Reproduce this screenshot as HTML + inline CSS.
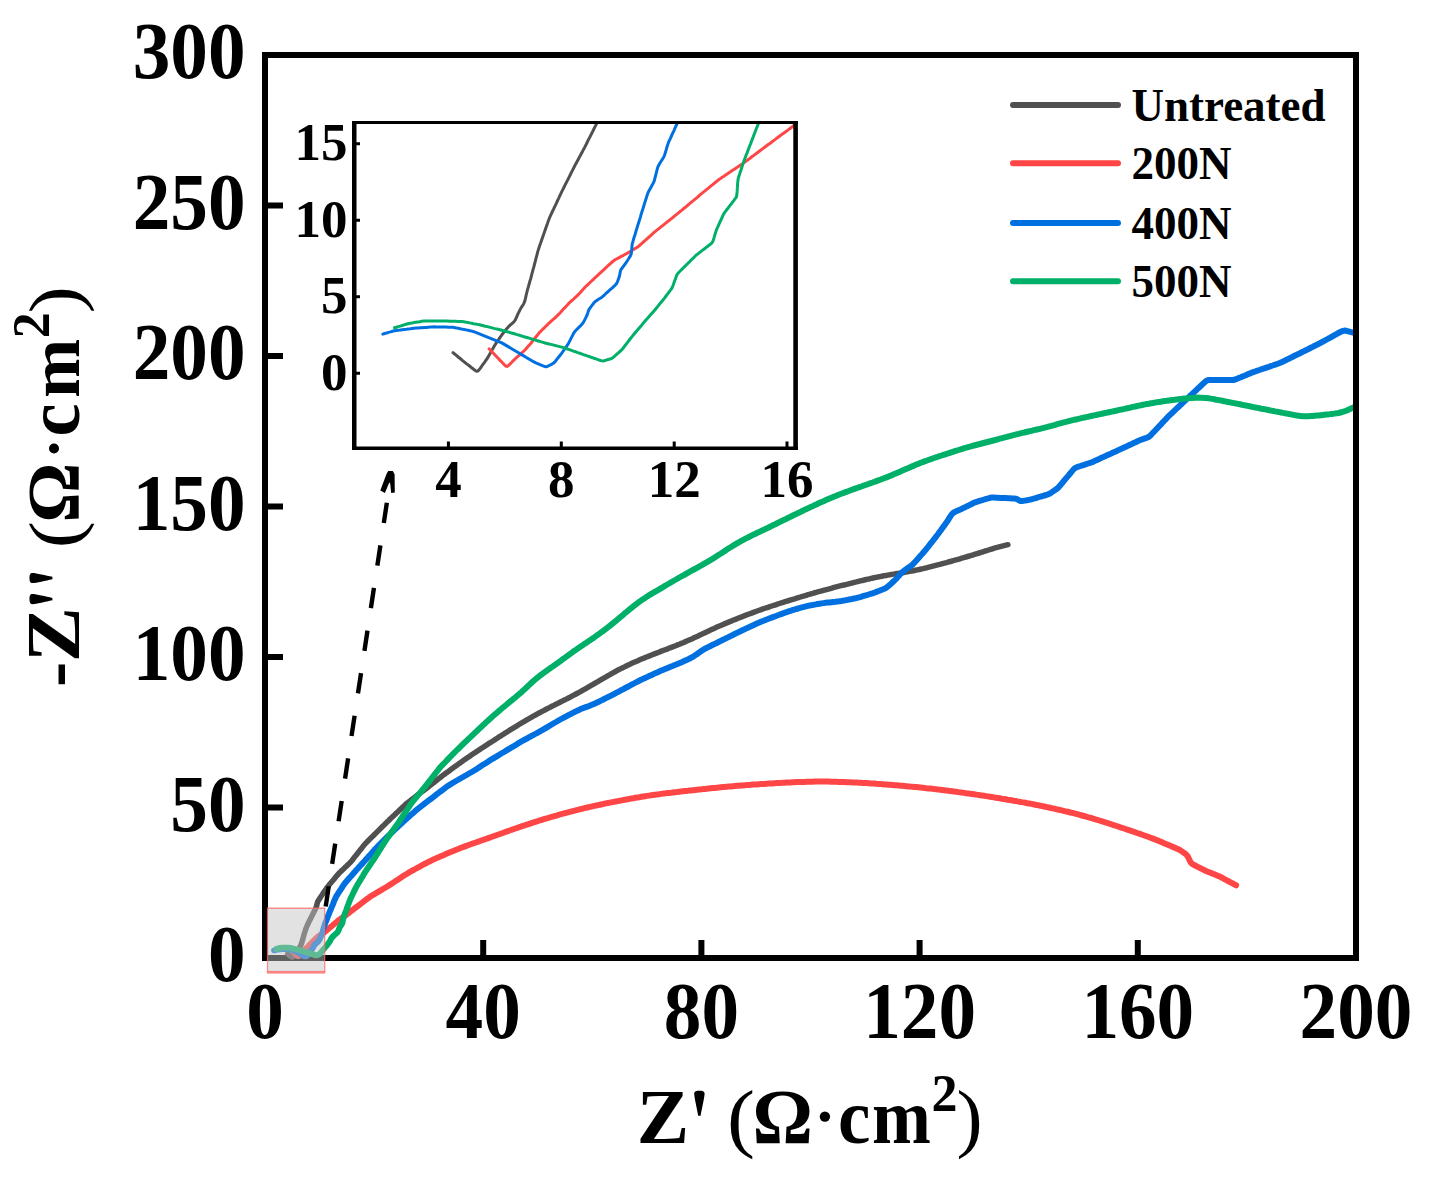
<!DOCTYPE html><html><head><meta charset="utf-8"><style>html,body{margin:0;padding:0;background:#fff;overflow:hidden;width:1435px;height:1181px;}svg{display:block;font-family:"Liberation Serif",serif;font-weight:bold;}</style></head><body>
<svg width="1435" height="1181" viewBox="0 0 1435 1181">
<defs><clipPath id="cm"><rect x="268" y="58" width="1085" height="904"/></clipPath><clipPath id="ci"><rect x="356" y="123" width="438" height="325"/></clipPath></defs>
<rect x="265" y="55" width="1091" height="903" fill="none" stroke="#000" stroke-width="6"/>
<g clip-path="url(#cm)" fill="none" stroke-width="6" stroke-linejoin="round" stroke-linecap="round">
<path d="M287.7,953.9 L289.3,955.2 L290.8,956.5 L292.3,957.1 L293.5,956.2 L294.6,954.5 L295.6,952.8 L296.7,951.1 L297.9,949.5 L299.2,948.0 L300.2,946.4 L301.1,944.6 L301.8,942.7 L302.3,940.8 L302.9,938.9 L303.4,936.9 L303.9,935.0 L304.4,933.1 L305.1,931.2 L305.7,929.3 L306.4,927.4 L307.2,925.6 L308.0,923.8 L308.9,921.9 L309.8,920.1 L310.7,918.4 L311.6,916.6 L312.5,914.8 L313.4,913.0 L314.3,911.2 L315.2,909.4 L316.1,907.6 L316.7,905.7 L317.1,903.8 L317.6,901.9 L318.6,900.2 L319.7,898.5 L320.8,896.8 L321.9,895.2 L323.0,893.5 L324.1,891.8 L325.2,890.2 L326.4,888.5 L327.6,886.9 L328.8,885.4 L330.1,883.8 L331.4,882.3 L332.7,880.7 L334.0,879.2 L335.2,877.7 L336.5,876.1 L337.8,874.6 L339.1,873.1 L340.6,871.7 L342.0,870.3 L343.5,869.0 L344.9,867.6 L346.4,866.2 L347.8,864.8 L349.3,863.4 L350.7,862.0 L352.0,860.5 L353.2,858.9 L354.4,857.3 L355.7,855.8 L356.9,854.2 L358.2,852.6 L359.4,851.0 L360.6,849.5 L361.9,847.9 L363.1,846.3 L364.4,844.8 L365.7,843.3 L367.1,841.8 L368.5,840.4 L369.9,839.0 L371.3,837.6 L372.8,836.2 L374.2,834.8 L375.6,833.4 L377.0,831.9 L378.5,830.5 L379.9,829.1 L381.3,827.7 L382.7,826.3 L384.2,824.9 L385.6,823.5 L387.0,822.1 L388.5,820.7 L389.9,819.3 L391.3,817.9 L392.8,816.5 L394.2,815.2 L395.7,813.8 L397.1,812.4 L398.6,811.0 L400.0,809.6 L401.5,808.3 L402.9,806.9 L404.4,805.5 L405.9,804.2 L407.4,802.9 L409.0,801.7 L410.6,800.5 L412.2,799.2 L413.8,798.0 L415.3,796.8 L416.9,795.5 L418.5,794.3 L420.1,793.1 L421.7,791.9 L423.3,790.7 L424.9,789.5 L426.5,788.3 L428.1,787.0 L429.7,785.8 L431.3,784.6 L432.8,783.4 L434.4,782.2 L436.0,780.9 L437.5,779.7 L439.1,778.4 L440.7,777.2 L442.2,775.9 L443.8,774.7 L445.4,773.5 L447.1,772.4 L448.7,771.2 L450.3,770.0 L451.9,768.8 L453.5,767.6 L455.1,766.5 L456.8,765.3 L458.4,764.1 L460.0,763.0 L461.7,761.8 L463.3,760.6 L464.9,759.5 L466.6,758.3 L468.2,757.2 L469.9,756.1 L471.5,754.9 L473.2,753.8 L474.8,752.7 L476.5,751.6 L478.2,750.5 L479.9,749.4 L481.5,748.3 L483.2,747.2 L484.9,746.1 L486.6,745.0 L488.2,743.9 L489.9,742.8 L491.6,741.8 L493.3,740.7 L495.0,739.6 L496.7,738.5 L498.3,737.4 L500.0,736.3 L501.7,735.3 L503.4,734.2 L505.1,733.1 L506.8,732.1 L508.5,731.0 L510.2,729.9 L511.9,728.9 L513.6,727.9 L515.3,726.8 L517.0,725.8 L518.7,724.7 L520.5,723.7 L522.2,722.7 L523.9,721.7 L525.6,720.6 L527.3,719.6 L529.1,718.6 L530.8,717.6 L532.5,716.6 L534.3,715.6 L536.0,714.7 L537.8,713.7 L539.5,712.8 L541.3,711.8 L543.1,710.9 L544.8,710.0 L546.6,709.0 L548.4,708.1 L550.2,707.2 L552.0,706.3 L553.8,705.4 L555.5,704.5 L557.3,703.6 L559.1,702.7 L560.9,701.8 L562.7,700.9 L564.5,700.0 L566.3,699.1 L568.0,698.2 L569.8,697.3 L571.6,696.3 L573.4,695.4 L575.1,694.5 L576.9,693.5 L578.6,692.6 L580.4,691.6 L582.1,690.6 L583.9,689.6 L585.6,688.7 L587.4,687.7 L589.1,686.7 L590.8,685.7 L592.6,684.7 L594.3,683.6 L596.0,682.6 L597.8,681.6 L599.5,680.6 L601.2,679.6 L602.9,678.6 L604.7,677.6 L606.4,676.6 L608.1,675.6 L609.9,674.6 L611.6,673.6 L613.4,672.6 L615.1,671.7 L616.9,670.7 L618.6,669.8 L620.4,668.9 L622.2,668.0 L624.0,667.1 L625.8,666.2 L627.6,665.3 L629.4,664.5 L631.2,663.6 L633.0,662.8 L634.8,662.0 L636.7,661.2 L638.5,660.4 L640.3,659.6 L642.2,658.8 L644.0,658.1 L645.9,657.3 L647.7,656.6 L649.6,655.8 L651.5,655.1 L653.3,654.3 L655.2,653.6 L657.1,652.9 L658.9,652.2 L660.8,651.4 L662.7,650.7 L664.5,650.0 L666.4,649.3 L668.3,648.6 L670.1,647.8 L672.0,647.1 L673.9,646.4 L675.7,645.7 L677.6,644.9 L679.4,644.2 L681.3,643.4 L683.1,642.7 L685.0,641.9 L686.8,641.1 L688.6,640.3 L690.5,639.5 L692.3,638.7 L694.1,637.8 L695.9,637.0 L697.7,636.2 L699.5,635.3 L701.3,634.4 L703.1,633.6 L704.9,632.7 L706.8,631.9 L708.6,631.0 L710.4,630.1 L712.2,629.3 L714.0,628.5 L715.8,627.6 L717.6,626.8 L719.5,626.0 L721.3,625.2 L723.1,624.4 L725.0,623.6 L726.8,622.9 L728.7,622.1 L730.5,621.3 L732.4,620.6 L734.2,619.8 L736.1,619.1 L738.0,618.3 L739.8,617.6 L741.7,616.9 L743.5,616.1 L745.4,615.4 L747.3,614.7 L749.1,614.0 L751.0,613.3 L752.9,612.6 L754.8,611.9 L756.6,611.2 L758.5,610.5 L760.4,609.9 L762.3,609.2 L764.2,608.5 L766.1,607.9 L768.0,607.3 L769.9,606.6 L771.8,606.0 L773.7,605.4 L775.6,604.8 L777.5,604.1 L779.4,603.5 L781.3,602.9 L783.2,602.3 L785.1,601.7 L787.0,601.1 L789.0,600.5 L790.9,599.9 L792.8,599.3 L794.7,598.8 L796.6,598.2 L798.5,597.6 L800.4,597.0 L802.4,596.4 L804.3,595.9 L806.2,595.3 L808.1,594.7 L810.0,594.2 L812.0,593.6 L813.9,593.0 L815.8,592.5 L817.7,591.9 L819.7,591.4 L821.6,590.9 L823.5,590.3 L825.4,589.8 L827.4,589.3 L829.3,588.8 L831.2,588.3 L833.2,587.7 L835.1,587.2 L837.1,586.7 L839.0,586.2 L840.9,585.7 L842.9,585.2 L844.8,584.8 L846.8,584.3 L848.7,583.8 L850.6,583.3 L852.6,582.8 L854.5,582.3 L856.5,581.9 L858.4,581.4 L860.4,580.9 L862.3,580.5 L864.3,580.0 L866.2,579.5 L868.2,579.1 L870.1,578.7 L872.1,578.2 L874.0,577.8 L876.0,577.4 L877.9,577.0 L879.9,576.6 L881.9,576.2 L883.8,575.8 L885.8,575.5 L887.8,575.1 L889.7,574.8 L891.7,574.4 L893.7,574.1 L895.6,573.8 L897.6,573.4 L899.6,573.1 L901.6,572.8 L903.5,572.5 L905.5,572.1 L907.5,571.8 L909.4,571.4 L911.4,571.1 L913.4,570.7 L915.3,570.3 L917.3,569.9 L919.2,569.5 L921.2,569.0 L923.1,568.6 L925.1,568.1 L927.0,567.7 L929.0,567.2 L930.9,566.7 L932.9,566.2 L934.8,565.7 L936.7,565.2 L938.7,564.7 L940.6,564.2 L942.5,563.6 L944.5,563.1 L946.4,562.6 L948.3,562.0 L950.3,561.5 L952.2,561.0 L954.1,560.4 L956.0,559.9 L958.0,559.3 L959.9,558.8 L961.8,558.2 L963.7,557.7 L965.6,557.1 L967.6,556.5 L969.5,556.0 L971.4,555.4 L973.3,554.8 L975.2,554.2 L977.1,553.6 L979.1,553.0 L981.0,552.4 L982.9,551.8 L984.8,551.2 L986.7,550.6 L988.6,550.0 L990.5,549.4 L992.4,548.8 L994.3,548.2 L996.3,547.7 L998.2,547.2 L1000.1,546.7 L1002.1,546.2 L1004.0,545.7 L1006.0,545.2 L1007.9,544.7" stroke="#505050" stroke-width="5.5"/>
<path d="M294.7,953.2 L296.1,954.6 L297.4,955.9 L298.8,955.9 L300.2,954.7 L301.7,953.3 L303.0,951.8 L304.3,950.2 L305.6,948.8 L307.1,947.4 L308.5,946.0 L309.9,944.5 L311.3,943.1 L312.7,941.7 L314.1,940.3 L315.5,938.9 L317.0,937.5 L318.5,936.2 L320.1,935.1 L321.8,934.1 L323.5,933.0 L325.0,931.7 L326.5,930.4 L328.1,929.1 L329.6,927.8 L331.2,926.5 L332.7,925.3 L334.2,924.0 L335.8,922.7 L337.3,921.4 L338.8,920.1 L340.5,919.0 L342.1,917.8 L343.8,916.7 L345.4,915.5 L347.0,914.3 L348.6,913.1 L350.1,911.9 L351.7,910.7 L353.3,909.5 L354.9,908.2 L356.5,907.0 L358.1,905.8 L359.7,904.6 L361.3,903.4 L362.9,902.2 L364.5,900.9 L366.1,899.7 L367.7,898.5 L369.3,897.3 L370.9,896.2 L372.7,895.2 L374.4,894.2 L376.1,893.1 L377.8,892.1 L379.5,891.1 L381.2,890.1 L383.0,889.0 L384.7,888.0 L386.4,887.0 L388.1,885.9 L389.8,884.9 L391.5,883.8 L393.2,882.7 L394.8,881.6 L396.5,880.5 L398.2,879.4 L399.9,878.3 L401.5,877.2 L403.2,876.1 L404.9,875.0 L406.6,874.0 L408.3,872.9 L410.0,871.9 L411.8,870.9 L413.5,870.0 L415.3,869.0 L417.0,868.0 L418.8,867.1 L420.5,866.1 L422.3,865.1 L424.0,864.2 L425.8,863.3 L427.6,862.3 L429.4,861.5 L431.2,860.6 L433.0,859.8 L434.8,858.9 L436.7,858.1 L438.5,857.3 L440.3,856.5 L442.1,855.7 L444.0,854.9 L445.8,854.1 L447.7,853.3 L449.5,852.5 L451.3,851.7 L453.2,851.0 L455.1,850.2 L456.9,849.5 L458.8,848.8 L460.6,848.0 L462.5,847.3 L464.4,846.6 L466.2,845.9 L468.1,845.2 L470.0,844.5 L471.9,843.8 L473.8,843.2 L475.7,842.5 L477.6,841.9 L479.4,841.2 L481.3,840.5 L483.2,839.9 L485.1,839.2 L487.0,838.6 L488.9,837.9 L490.8,837.2 L492.7,836.5 L494.5,835.9 L496.4,835.2 L498.3,834.5 L500.2,833.9 L502.1,833.2 L504.0,832.5 L505.9,831.8 L507.7,831.2 L509.6,830.5 L511.5,829.8 L513.4,829.2 L515.3,828.5 L517.2,827.9 L519.1,827.2 L521.0,826.6 L522.9,825.9 L524.8,825.3 L526.7,824.7 L528.6,824.1 L530.5,823.4 L532.4,822.8 L534.3,822.2 L536.2,821.6 L538.1,821.0 L540.0,820.4 L541.9,819.8 L543.8,819.2 L545.8,818.6 L547.7,818.1 L549.6,817.5 L551.5,816.9 L553.4,816.4 L555.4,815.8 L557.3,815.3 L559.2,814.7 L561.1,814.2 L563.1,813.7 L565.0,813.1 L566.9,812.6 L568.9,812.1 L570.8,811.6 L572.7,811.1 L574.7,810.6 L576.6,810.1 L578.6,809.6 L580.5,809.1 L582.4,808.7 L584.4,808.2 L586.3,807.7 L588.3,807.3 L590.2,806.8 L592.2,806.4 L594.1,805.9 L596.1,805.5 L598.0,805.1 L600.0,804.7 L602.0,804.3 L603.9,803.8 L605.9,803.4 L607.8,803.0 L609.8,802.6 L611.8,802.3 L613.7,801.9 L615.7,801.5 L617.7,801.1 L619.6,800.7 L621.6,800.4 L623.6,800.0 L625.5,799.6 L627.5,799.3 L629.5,798.9 L631.4,798.5 L633.4,798.2 L635.4,797.8 L637.3,797.5 L639.3,797.2 L641.3,796.8 L643.3,796.5 L645.2,796.2 L647.2,795.9 L649.2,795.6 L651.2,795.3 L653.1,795.0 L655.1,794.7 L657.1,794.4 L659.1,794.2 L661.1,793.9 L663.1,793.6 L665.0,793.4 L667.0,793.1 L669.0,792.9 L671.0,792.7 L673.0,792.4 L675.0,792.2 L677.0,792.0 L679.0,791.7 L680.9,791.5 L682.9,791.3 L684.9,791.1 L686.9,790.9 L688.9,790.6 L690.9,790.4 L692.9,790.2 L694.9,790.0 L696.9,789.8 L698.9,789.6 L700.8,789.4 L702.8,789.1 L704.8,788.9 L706.8,788.7 L708.8,788.5 L710.8,788.3 L712.8,788.1 L714.8,787.9 L716.8,787.7 L718.8,787.5 L720.8,787.3 L722.7,787.1 L724.7,786.9 L726.7,786.7 L728.7,786.5 L730.7,786.4 L732.7,786.2 L734.7,786.0 L736.7,785.8 L738.7,785.7 L740.7,785.5 L742.7,785.4 L744.7,785.2 L746.7,785.1 L748.7,784.9 L750.7,784.8 L752.7,784.6 L754.7,784.5 L756.7,784.4 L758.7,784.2 L760.7,784.1 L762.7,784.0 L764.7,783.9 L766.6,783.7 L768.6,783.6 L770.6,783.5 L772.6,783.4 L774.6,783.2 L776.6,783.1 L778.6,783.0 L780.6,782.9 L782.6,782.8 L784.6,782.7 L786.6,782.6 L788.6,782.5 L790.6,782.4 L792.6,782.3 L794.6,782.2 L796.6,782.1 L798.6,782.1 L800.6,782.0 L802.6,781.9 L804.6,781.9 L806.6,781.8 L808.6,781.8 L810.6,781.7 L812.6,781.7 L814.6,781.6 L816.6,781.6 L818.6,781.6 L820.6,781.6 L822.6,781.6 L824.6,781.6 L826.6,781.6 L828.6,781.6 L830.6,781.7 L832.6,781.7 L834.6,781.8 L836.6,781.8 L838.6,781.9 L840.6,781.9 L842.6,782.0 L844.6,782.1 L846.6,782.2 L848.6,782.2 L850.6,782.3 L852.6,782.4 L854.6,782.5 L856.6,782.6 L858.6,782.7 L860.6,782.8 L862.6,782.9 L864.6,783.0 L866.6,783.1 L868.6,783.2 L870.6,783.4 L872.6,783.5 L874.6,783.6 L876.6,783.8 L878.6,783.9 L880.6,784.1 L882.6,784.2 L884.6,784.4 L886.6,784.5 L888.6,784.7 L890.6,784.8 L892.6,785.0 L894.6,785.2 L896.6,785.3 L898.6,785.5 L900.6,785.7 L902.5,785.8 L904.5,786.0 L906.5,786.2 L908.5,786.4 L910.5,786.6 L912.5,786.7 L914.5,786.9 L916.5,787.1 L918.5,787.3 L920.5,787.5 L922.5,787.7 L924.5,787.9 L926.4,788.2 L928.4,788.4 L930.4,788.6 L932.4,788.8 L934.4,789.1 L936.4,789.3 L938.4,789.6 L940.4,789.8 L942.3,790.0 L944.3,790.3 L946.3,790.6 L948.3,790.8 L950.3,791.1 L952.3,791.3 L954.3,791.6 L956.2,791.8 L958.2,792.1 L960.2,792.4 L962.2,792.6 L964.2,792.9 L966.2,793.2 L968.1,793.4 L970.1,793.7 L972.1,794.0 L974.1,794.3 L976.1,794.6 L978.0,794.9 L980.0,795.2 L982.0,795.5 L984.0,795.8 L986.0,796.1 L987.9,796.4 L989.9,796.7 L991.9,797.0 L993.9,797.4 L995.8,797.7 L997.8,798.0 L999.8,798.3 L1001.8,798.7 L1003.7,799.0 L1005.7,799.3 L1007.7,799.7 L1009.7,800.0 L1011.6,800.3 L1013.6,800.7 L1015.6,801.0 L1017.5,801.4 L1019.5,801.7 L1021.5,802.1 L1023.5,802.4 L1025.4,802.8 L1027.4,803.2 L1029.4,803.5 L1031.3,803.9 L1033.3,804.3 L1035.3,804.7 L1037.2,805.1 L1039.2,805.5 L1041.1,805.9 L1043.1,806.3 L1045.1,806.7 L1047.0,807.1 L1049.0,807.5 L1050.9,808.0 L1052.9,808.4 L1054.8,808.8 L1056.8,809.3 L1058.7,809.7 L1060.7,810.1 L1062.6,810.6 L1064.6,811.1 L1066.5,811.5 L1068.5,812.0 L1070.4,812.5 L1072.4,812.9 L1074.3,813.4 L1076.2,813.9 L1078.2,814.4 L1080.1,815.0 L1082.0,815.5 L1084.0,816.0 L1085.9,816.5 L1087.8,817.1 L1089.7,817.6 L1091.7,818.2 L1093.6,818.8 L1095.5,819.4 L1097.4,819.9 L1099.3,820.5 L1101.2,821.1 L1103.1,821.7 L1105.1,822.3 L1107.0,822.9 L1108.9,823.5 L1110.8,824.1 L1112.7,824.8 L1114.6,825.4 L1116.5,826.0 L1118.4,826.6 L1120.3,827.3 L1122.2,827.9 L1124.1,828.5 L1126.0,829.2 L1127.9,829.8 L1129.8,830.4 L1131.7,831.1 L1133.6,831.7 L1135.5,832.4 L1137.3,833.0 L1139.2,833.7 L1141.1,834.3 L1143.0,835.0 L1144.9,835.7 L1146.8,836.3 L1148.7,837.0 L1150.5,837.7 L1152.4,838.4 L1154.3,839.1 L1156.2,839.9 L1158.0,840.6 L1159.9,841.4 L1161.7,842.1 L1163.5,842.9 L1165.4,843.7 L1167.2,844.5 L1169.1,845.3 L1170.9,846.1 L1172.8,846.9 L1174.6,847.6 L1176.4,848.4 L1178.3,849.2 L1180.0,850.2 L1181.7,851.3 L1183.4,852.4 L1185.0,853.5 L1186.5,854.8 L1187.7,856.3 L1188.6,858.1 L1189.4,859.9 L1190.3,861.7 L1191.4,863.2 L1192.9,864.4 L1194.7,865.3 L1196.5,866.2 L1198.3,867.1 L1200.1,868.0 L1201.8,868.9 L1203.6,869.8 L1205.4,870.7 L1207.3,871.5 L1209.1,872.2 L1211.0,872.9 L1212.8,873.7 L1214.7,874.4 L1216.6,875.2 L1218.4,876.0 L1220.2,876.8 L1222.0,877.7 L1223.7,878.7 L1225.5,879.6 L1227.3,880.6 L1229.0,881.5 L1230.8,882.5 L1232.6,883.4 L1234.3,884.4 L1236.1,885.3" stroke="#FF4646"/>
<path d="M274.1,950.3 L276.1,949.8 L278.0,949.4 L280.0,949.2 L282.0,949.0 L284.0,948.9 L286.0,948.9 L288.0,949.1 L290.0,949.4 L291.9,949.9 L293.8,950.6 L295.6,951.4 L297.4,952.2 L299.2,953.2 L300.9,954.3 L302.6,955.3 L304.4,956.2 L306.2,956.3 L307.7,955.3 L308.9,953.7 L310.0,952.1 L311.0,950.3 L312.2,948.8 L313.3,947.1 L314.2,945.3 L315.4,943.8 L317.0,942.6 L318.4,941.2 L319.5,939.6 L320.2,937.8 L321.2,936.1 L322.1,934.3 L322.5,932.4 L323.0,930.5 L323.5,928.6 L324.1,926.6 L324.7,924.7 L325.3,922.8 L326.2,921.0 L326.9,919.2 L327.5,917.3 L328.3,915.5 L329.0,913.6 L329.7,911.8 L330.6,909.9 L331.3,908.1 L332.1,906.2 L332.9,904.4 L333.6,902.5 L334.3,900.7 L335.1,898.8 L335.9,897.0 L336.9,895.3 L338.0,893.6 L339.1,891.9 L340.2,890.3 L341.3,888.6 L342.4,886.9 L343.5,885.2 L344.6,883.6 L345.9,882.0 L347.2,880.5 L348.5,879.0 L349.8,877.5 L351.2,876.0 L352.5,874.5 L353.8,873.0 L355.1,871.5 L356.4,870.0 L357.8,868.5 L359.1,867.0 L360.5,865.5 L361.8,864.1 L363.2,862.6 L364.5,861.1 L365.8,859.6 L367.2,858.1 L368.5,856.6 L369.9,855.1 L371.2,853.6 L372.5,852.1 L373.8,850.6 L375.2,849.1 L376.5,847.7 L377.9,846.2 L379.3,844.8 L380.7,843.4 L382.1,842.0 L383.5,840.6 L385.0,839.1 L386.4,837.7 L387.8,836.3 L389.3,834.9 L390.7,833.6 L392.1,832.2 L393.6,830.8 L395.1,829.4 L396.5,828.1 L398.0,826.7 L399.4,825.3 L400.9,824.0 L402.4,822.6 L403.8,821.2 L405.3,819.9 L406.8,818.5 L408.3,817.2 L409.8,815.9 L411.3,814.5 L412.8,813.2 L414.3,811.9 L415.8,810.6 L417.3,809.3 L418.9,808.0 L420.4,806.8 L422.0,805.6 L423.6,804.4 L425.2,803.1 L426.8,801.9 L428.4,800.7 L430.0,799.5 L431.6,798.3 L433.2,797.1 L434.8,795.9 L436.3,794.6 L437.9,793.4 L439.5,792.2 L441.1,791.0 L442.7,789.8 L444.3,788.6 L445.9,787.4 L447.5,786.2 L449.2,785.1 L450.9,784.1 L452.6,783.0 L454.3,782.0 L456.0,781.0 L457.8,780.0 L459.5,779.0 L461.2,778.0 L463.0,777.0 L464.7,776.0 L466.5,775.0 L468.2,774.0 L469.9,773.0 L471.7,772.0 L473.4,771.0 L475.1,770.0 L476.8,768.9 L478.5,767.8 L480.1,766.7 L481.8,765.6 L483.5,764.5 L485.2,763.5 L486.9,762.4 L488.6,761.3 L490.2,760.2 L491.9,759.2 L493.7,758.1 L495.4,757.1 L497.1,756.1 L498.8,755.1 L500.5,754.0 L502.2,753.0 L504.0,752.0 L505.7,750.9 L507.4,749.9 L509.1,748.9 L510.8,747.9 L512.5,746.8 L514.3,745.8 L516.0,744.8 L517.7,743.7 L519.4,742.7 L521.1,741.7 L522.9,740.7 L524.6,739.7 L526.4,738.8 L528.1,737.8 L529.9,736.9 L531.6,735.9 L533.4,735.0 L535.2,734.0 L536.9,733.1 L538.7,732.1 L540.4,731.1 L542.2,730.1 L543.9,729.1 L545.6,728.1 L547.3,727.1 L549.1,726.1 L550.8,725.0 L552.5,724.0 L554.2,723.0 L556.0,722.0 L557.7,721.0 L559.4,720.0 L561.2,719.0 L562.9,718.1 L564.7,717.1 L566.5,716.2 L568.2,715.3 L570.0,714.4 L571.8,713.5 L573.6,712.5 L575.4,711.6 L577.2,710.8 L579.0,709.9 L580.8,709.1 L582.6,708.3 L584.5,707.6 L586.4,706.9 L588.3,706.3 L590.1,705.6 L592.0,704.8 L593.8,704.0 L595.6,703.2 L597.5,702.3 L599.2,701.5 L601.0,700.6 L602.8,699.7 L604.6,698.8 L606.4,697.9 L608.2,697.0 L610.0,696.1 L611.8,695.2 L613.5,694.3 L615.3,693.3 L617.1,692.4 L618.9,691.5 L620.6,690.5 L622.4,689.6 L624.2,688.7 L625.9,687.7 L627.7,686.8 L629.5,685.8 L631.2,684.9 L633.0,684.0 L634.8,683.0 L636.5,682.1 L638.3,681.2 L640.1,680.3 L641.9,679.4 L643.7,678.6 L645.5,677.7 L647.4,676.9 L649.2,676.0 L651.0,675.2 L652.8,674.4 L654.6,673.5 L656.5,672.7 L658.3,671.9 L660.1,671.1 L662.0,670.3 L663.8,669.6 L665.7,668.8 L667.5,668.1 L669.4,667.3 L671.2,666.5 L673.1,665.8 L674.9,665.0 L676.8,664.3 L678.6,663.5 L680.5,662.7 L682.3,661.9 L684.1,661.1 L685.9,660.2 L687.8,659.4 L689.6,658.6 L691.3,657.6 L693.1,656.7 L694.7,655.6 L696.4,654.5 L698.0,653.3 L699.6,652.2 L701.3,651.0 L703.0,649.9 L704.7,648.9 L706.4,648.0 L708.2,647.1 L710.0,646.2 L711.8,645.3 L713.6,644.4 L715.4,643.6 L717.2,642.7 L719.0,641.8 L720.8,640.9 L722.6,640.0 L724.4,639.1 L726.2,638.2 L727.9,637.4 L729.7,636.5 L731.5,635.6 L733.3,634.7 L735.1,633.8 L736.9,632.9 L738.7,632.1 L740.5,631.2 L742.3,630.3 L744.1,629.5 L746.0,628.6 L747.8,627.8 L749.6,626.9 L751.4,626.1 L753.2,625.2 L755.0,624.4 L756.8,623.5 L758.7,622.7 L760.5,621.9 L762.3,621.2 L764.2,620.5 L766.1,619.7 L768.0,619.0 L769.8,618.3 L771.7,617.6 L773.6,616.9 L775.5,616.2 L777.3,615.5 L779.2,614.8 L781.1,614.1 L783.0,613.4 L784.8,612.7 L786.7,612.1 L788.6,611.4 L790.5,610.8 L792.4,610.2 L794.3,609.6 L796.2,609.0 L798.2,608.5 L800.1,607.9 L802.0,607.4 L803.9,606.9 L805.9,606.4 L807.8,605.9 L809.8,605.5 L811.7,605.1 L813.7,604.7 L815.7,604.4 L817.6,604.0 L819.6,603.7 L821.6,603.4 L823.6,603.1 L825.6,602.8 L827.5,602.6 L829.5,602.4 L831.5,602.2 L833.5,602.0 L835.5,601.8 L837.5,601.5 L839.5,601.3 L841.4,601.0 L843.4,600.6 L845.4,600.3 L847.4,599.9 L849.3,599.5 L851.3,599.1 L853.2,598.7 L855.2,598.3 L857.1,597.8 L859.1,597.3 L861.0,596.8 L862.9,596.2 L864.8,595.6 L866.7,595.1 L868.7,594.5 L870.6,593.9 L872.5,593.3 L874.4,592.7 L876.3,591.9 L878.1,591.2 L880.0,590.5 L881.8,589.7 L883.7,589.0 L885.5,588.2 L887.2,587.1 L888.7,585.8 L890.2,584.5 L891.7,583.1 L893.1,581.8 L894.6,580.4 L896.0,579.0 L897.3,577.5 L898.7,576.0 L900.0,574.5 L901.4,573.1 L902.8,571.7 L904.3,570.4 L906.0,569.3 L907.6,568.1 L909.3,567.0 L910.9,565.9 L912.5,564.6 L913.9,563.2 L915.2,561.7 L916.6,560.2 L917.9,558.7 L919.2,557.2 L920.5,555.7 L921.9,554.2 L923.2,552.7 L924.5,551.2 L925.8,549.7 L927.0,548.1 L928.3,546.6 L929.5,545.0 L930.7,543.4 L932.0,541.8 L933.2,540.3 L934.5,538.7 L935.7,537.1 L936.9,535.5 L938.1,534.0 L939.3,532.3 L940.5,530.7 L941.7,529.1 L942.8,527.5 L944.0,525.9 L945.2,524.2 L946.3,522.6 L947.5,520.9 L948.6,519.3 L949.6,517.6 L950.7,515.9 L951.8,514.3 L953.2,512.9 L954.9,511.9 L956.7,511.1 L958.6,510.3 L960.4,509.5 L962.2,508.6 L964.0,507.8 L965.8,506.9 L967.6,506.0 L969.4,505.1 L971.2,504.2 L973.0,503.3 L974.8,502.4 L976.7,501.8 L978.6,501.2 L980.5,500.6 L982.4,500.1 L984.3,499.5 L986.2,498.9 L988.2,498.4 L990.1,497.8 L992.0,497.6 L994.0,497.6 L996.0,497.7 L998.0,497.8 L1000.0,497.9 L1002.0,498.0 L1004.0,498.1 L1006.0,498.1 L1008.0,498.2 L1010.0,498.3 L1012.0,498.4 L1014.0,498.5 L1016.0,498.7 L1017.7,499.5 L1019.3,500.6 L1021.0,501.1 L1023.0,500.9 L1024.9,500.6 L1026.9,500.3 L1028.9,499.9 L1030.8,499.5 L1032.8,498.9 L1034.7,498.4 L1036.6,497.8 L1038.5,497.2 L1040.4,496.7 L1042.4,496.1 L1044.3,495.5 L1046.2,495.0 L1048.1,494.4 L1049.9,493.5 L1051.6,492.4 L1053.2,491.3 L1054.9,490.2 L1056.5,489.0 L1058.1,487.8 L1059.4,486.3 L1060.7,484.8 L1062.0,483.2 L1063.3,481.7 L1064.5,480.2 L1065.8,478.6 L1067.1,477.1 L1068.4,475.6 L1069.7,474.0 L1071.0,472.5 L1072.2,471.0 L1073.5,469.4 L1075.0,468.1 L1076.7,467.3 L1078.6,466.6 L1080.5,466.0 L1082.4,465.4 L1084.3,464.8 L1086.2,464.1 L1088.1,463.5 L1090.0,462.9 L1091.9,462.2 L1093.7,461.4 L1095.6,460.6 L1097.4,459.7 L1099.2,458.9 L1101.0,458.1 L1102.8,457.3 L1104.7,456.4 L1106.5,455.6 L1108.3,454.8 L1110.1,454.0 L1112.0,453.1 L1113.8,452.3 L1115.6,451.5 L1117.4,450.6 L1119.2,449.8 L1121.0,448.9 L1122.9,448.1 L1124.7,447.2 L1126.5,446.4 L1128.3,445.6 L1130.1,444.7 L1131.9,443.9 L1133.7,443.0 L1135.6,442.2 L1137.4,441.3 L1139.2,440.5 L1141.0,439.8 L1142.9,439.1 L1144.8,438.4 L1146.7,437.8 L1148.5,437.0 L1150.1,435.8 L1151.5,434.4 L1152.8,432.9 L1154.2,431.5 L1155.6,430.0 L1157.0,428.6 L1158.3,427.1 L1159.7,425.7 L1161.1,424.2 L1162.4,422.7 L1163.8,421.3 L1165.2,419.8 L1166.6,418.4 L1167.9,416.9 L1169.3,415.5 L1170.8,414.1 L1172.3,412.7 L1173.7,411.4 L1175.2,410.0 L1176.6,408.6 L1178.1,407.3 L1179.5,405.9 L1181.0,404.5 L1182.5,403.1 L1183.9,401.8 L1185.4,400.4 L1186.8,399.0 L1188.3,397.7 L1189.7,396.3 L1191.2,394.9 L1192.7,393.5 L1194.1,392.2 L1195.6,390.8 L1197.0,389.4 L1198.5,388.0 L1199.9,386.7 L1201.4,385.3 L1202.8,383.9 L1204.3,382.6 L1205.8,381.2 L1207.4,380.3 L1209.3,380.1 L1211.3,380.1 L1213.3,380.1 L1215.3,380.1 L1217.3,380.1 L1219.3,380.1 L1221.3,380.1 L1223.3,380.1 L1225.3,380.1 L1227.3,380.1 L1229.3,380.1 L1231.3,380.1 L1233.3,380.0 L1235.2,379.5 L1237.1,378.7 L1238.9,377.9 L1240.8,377.2 L1242.6,376.4 L1244.5,375.7 L1246.3,374.9 L1248.2,374.1 L1250.0,373.4 L1251.9,372.6 L1253.8,371.9 L1255.6,371.3 L1257.5,370.6 L1259.4,370.0 L1261.3,369.3 L1263.2,368.7 L1265.1,368.1 L1267.0,367.4 L1268.9,366.8 L1270.8,366.1 L1272.7,365.5 L1274.6,364.8 L1276.5,364.2 L1278.4,363.5 L1280.3,362.8 L1282.1,362.0 L1283.9,361.1 L1285.7,360.2 L1287.5,359.3 L1289.3,358.5 L1291.0,357.6 L1292.8,356.7 L1294.6,355.8 L1296.4,354.9 L1298.2,354.1 L1300.0,353.2 L1301.8,352.3 L1303.6,351.4 L1305.4,350.5 L1307.2,349.6 L1309.0,348.7 L1310.8,347.8 L1312.6,346.9 L1314.3,346.0 L1316.1,345.1 L1317.9,344.2 L1319.7,343.3 L1321.5,342.4 L1323.2,341.4 L1325.0,340.5 L1326.7,339.5 L1328.5,338.5 L1330.3,337.6 L1332.0,336.6 L1333.8,335.6 L1335.5,334.7 L1337.3,333.7 L1339.0,332.7 L1340.8,331.8 L1342.6,331.0 L1344.5,330.6 L1346.4,330.8 L1348.4,331.3 L1350.3,331.9 L1352.2,332.4 L1354.1,332.9 L1356.1,333.5 L1358.0,334.0" stroke="#0070E0"/>
<path d="M276.4,949.0 L278.3,948.5 L280.3,948.0 L282.2,947.8 L284.2,947.7 L286.2,947.7 L288.2,947.8 L290.2,948.0 L292.2,948.3 L294.1,948.8 L296.1,949.3 L298.0,949.8 L299.9,950.3 L301.8,950.9 L303.8,951.5 L305.7,952.1 L307.6,952.6 L309.5,953.1 L311.4,953.8 L313.3,954.4 L315.2,955.1 L317.1,955.3 L318.8,954.6 L320.3,953.3 L321.6,951.8 L322.8,950.2 L324.1,948.6 L325.4,947.1 L326.7,945.6 L327.9,944.0 L329.1,942.4 L330.2,940.7 L331.0,938.9 L332.1,937.4 L333.5,935.9 L335.0,934.6 L336.5,933.3 L337.8,931.9 L338.6,930.1 L339.3,928.2 L340.2,926.5 L341.4,924.8 L342.4,923.1 L342.7,921.2 L343.0,919.3 L343.6,917.4 L344.2,915.5 L344.9,913.6 L345.7,911.7 L346.4,909.8 L347.0,908.0 L347.7,906.1 L348.4,904.2 L349.1,902.3 L349.8,900.5 L350.5,898.6 L351.4,896.8 L352.3,895.0 L353.2,893.2 L354.0,891.4 L354.9,889.6 L355.8,887.8 L356.8,886.1 L357.8,884.3 L358.8,882.6 L359.9,880.9 L360.9,879.2 L361.9,877.5 L363.0,875.8 L364.0,874.1 L365.0,872.3 L366.1,870.7 L367.2,869.0 L368.4,867.4 L369.5,865.7 L370.6,864.0 L371.7,862.4 L372.8,860.7 L374.0,859.1 L375.1,857.4 L376.1,855.7 L377.2,854.0 L378.2,852.3 L379.3,850.6 L380.4,848.9 L381.4,847.2 L382.5,845.5 L383.6,843.8 L384.6,842.2 L385.7,840.5 L386.9,838.8 L388.0,837.2 L389.2,835.6 L390.4,834.0 L391.5,832.3 L392.7,830.7 L393.9,829.1 L395.0,827.5 L396.2,825.8 L397.4,824.2 L398.5,822.6 L399.6,820.9 L400.7,819.2 L401.8,817.6 L402.9,815.9 L404.0,814.2 L405.2,812.6 L406.3,810.9 L407.4,809.2 L408.5,807.6 L409.6,805.9 L410.7,804.2 L411.9,802.6 L413.1,801.1 L414.4,799.5 L415.7,798.0 L417.0,796.5 L418.2,794.9 L419.5,793.4 L420.8,791.9 L422.1,790.3 L423.4,788.8 L424.7,787.2 L425.9,785.7 L427.1,784.1 L428.4,782.5 L429.6,780.9 L430.8,779.4 L432.0,777.8 L433.3,776.2 L434.5,774.6 L435.7,773.0 L436.9,771.5 L438.2,769.9 L439.4,768.3 L440.7,766.8 L442.1,765.3 L443.5,763.9 L444.9,762.5 L446.3,761.0 L447.6,759.6 L449.0,758.1 L450.4,756.7 L451.8,755.3 L453.2,753.8 L454.6,752.4 L456.0,751.0 L457.4,749.6 L458.9,748.2 L460.3,746.8 L461.7,745.4 L463.2,744.0 L464.6,742.6 L466.1,741.3 L467.5,739.9 L469.0,738.5 L470.4,737.1 L471.9,735.7 L473.3,734.4 L474.8,733.0 L476.2,731.6 L477.7,730.2 L479.1,728.9 L480.6,727.5 L482.1,726.1 L483.5,724.7 L485.0,723.4 L486.4,722.0 L487.9,720.7 L489.4,719.3 L490.9,718.0 L492.4,716.6 L493.9,715.3 L495.4,714.0 L496.9,712.7 L498.4,711.4 L500.0,710.1 L501.5,708.8 L503.0,707.5 L504.5,706.3 L506.1,705.0 L507.6,703.7 L509.2,702.4 L510.7,701.2 L512.3,699.9 L513.8,698.6 L515.4,697.4 L516.9,696.1 L518.4,694.8 L519.9,693.5 L521.4,692.2 L522.9,690.8 L524.4,689.5 L525.8,688.1 L527.3,686.7 L528.7,685.4 L530.2,684.0 L531.6,682.7 L533.1,681.3 L534.6,680.0 L536.1,678.7 L537.7,677.5 L539.2,676.2 L540.8,675.0 L542.4,673.8 L544.0,672.6 L545.6,671.5 L547.2,670.3 L548.9,669.2 L550.5,668.0 L552.1,666.9 L553.8,665.7 L555.4,664.6 L557.0,663.4 L558.7,662.3 L560.3,661.1 L561.9,659.9 L563.5,658.7 L565.1,657.6 L566.7,656.4 L568.4,655.2 L570.0,654.0 L571.6,652.9 L573.2,651.7 L574.8,650.5 L576.5,649.4 L578.1,648.3 L579.8,647.1 L581.4,646.0 L583.1,644.9 L584.7,643.8 L586.4,642.7 L588.0,641.6 L589.7,640.4 L591.4,639.3 L593.0,638.2 L594.6,637.1 L596.3,635.9 L597.9,634.7 L599.5,633.6 L601.1,632.4 L602.8,631.2 L604.4,630.0 L605.9,628.8 L607.5,627.6 L609.1,626.4 L610.7,625.1 L612.2,623.9 L613.8,622.6 L615.3,621.4 L616.9,620.1 L618.4,618.8 L619.9,617.5 L621.5,616.2 L623.0,614.9 L624.5,613.6 L626.0,612.3 L627.6,611.1 L629.1,609.8 L630.6,608.5 L632.2,607.3 L633.7,606.0 L635.3,604.8 L636.9,603.6 L638.5,602.4 L640.1,601.2 L641.7,600.1 L643.4,599.0 L645.1,597.9 L646.7,596.8 L648.4,595.7 L650.1,594.7 L651.8,593.7 L653.5,592.6 L655.2,591.6 L657.0,590.6 L658.7,589.6 L660.4,588.6 L662.1,587.6 L663.9,586.6 L665.6,585.5 L667.3,584.5 L669.1,583.5 L670.8,582.5 L672.5,581.5 L674.2,580.5 L676.0,579.5 L677.7,578.5 L679.4,577.5 L681.2,576.5 L682.9,575.6 L684.7,574.6 L686.4,573.6 L688.2,572.6 L689.9,571.7 L691.7,570.7 L693.4,569.7 L695.2,568.8 L696.9,567.8 L698.7,566.8 L700.4,565.9 L702.2,564.9 L703.9,563.9 L705.6,562.9 L707.4,561.9 L709.1,560.9 L710.8,559.9 L712.5,558.8 L714.2,557.8 L715.9,556.7 L717.6,555.6 L719.2,554.5 L720.9,553.5 L722.6,552.4 L724.3,551.3 L725.9,550.2 L727.6,549.1 L729.3,548.0 L731.0,547.0 L732.7,545.9 L734.4,544.9 L736.1,543.9 L737.8,542.9 L739.6,541.9 L741.3,540.9 L743.1,540.0 L744.8,539.0 L746.6,538.1 L748.4,537.2 L750.2,536.3 L751.9,535.4 L753.7,534.5 L755.5,533.7 L757.3,532.8 L759.1,532.0 L760.9,531.1 L762.7,530.2 L764.5,529.4 L766.4,528.5 L768.2,527.7 L770.0,526.8 L771.8,525.9 L773.5,525.0 L775.3,524.2 L777.1,523.3 L778.9,522.4 L780.7,521.5 L782.5,520.6 L784.3,519.7 L786.1,518.9 L787.9,518.0 L789.7,517.1 L791.5,516.2 L793.3,515.3 L795.1,514.5 L796.9,513.6 L798.7,512.7 L800.5,511.9 L802.3,511.0 L804.1,510.1 L805.9,509.3 L807.7,508.4 L809.5,507.6 L811.3,506.7 L813.2,505.9 L815.0,505.0 L816.8,504.2 L818.6,503.3 L820.4,502.5 L822.2,501.7 L824.1,500.9 L825.9,500.1 L827.7,499.3 L829.6,498.5 L831.4,497.7 L833.3,496.9 L835.1,496.2 L837.0,495.4 L838.8,494.7 L840.7,494.0 L842.6,493.3 L844.4,492.6 L846.3,491.9 L848.2,491.2 L850.0,490.5 L851.9,489.8 L853.8,489.1 L855.7,488.4 L857.6,487.8 L859.5,487.1 L861.4,486.5 L863.2,485.8 L865.1,485.1 L867.0,484.5 L868.9,483.8 L870.8,483.1 L872.7,482.5 L874.6,481.8 L876.4,481.1 L878.3,480.4 L880.2,479.7 L882.1,479.0 L883.9,478.3 L885.8,477.6 L887.7,476.9 L889.5,476.1 L891.4,475.4 L893.2,474.6 L895.0,473.8 L896.9,473.0 L898.7,472.2 L900.5,471.4 L902.4,470.6 L904.2,469.8 L906.0,469.0 L907.9,468.2 L909.7,467.4 L911.6,466.6 L913.4,465.9 L915.2,465.1 L917.1,464.3 L918.9,463.6 L920.8,462.8 L922.7,462.1 L924.5,461.4 L926.4,460.7 L928.3,460.0 L930.2,459.4 L932.0,458.7 L933.9,458.0 L935.8,457.4 L937.7,456.8 L939.6,456.1 L941.5,455.5 L943.4,454.9 L945.3,454.3 L947.2,453.7 L949.1,453.1 L951.0,452.4 L952.9,451.8 L954.8,451.2 L956.7,450.6 L958.7,450.0 L960.6,449.4 L962.5,448.8 L964.4,448.2 L966.3,447.7 L968.2,447.1 L970.1,446.6 L972.0,446.0 L974.0,445.5 L975.9,445.0 L977.8,444.5 L979.8,444.0 L981.7,443.5 L983.6,443.0 L985.6,442.5 L987.5,442.0 L989.4,441.5 L991.4,441.0 L993.3,440.5 L995.3,440.0 L997.2,439.5 L999.1,438.9 L1001.0,438.4 L1003.0,437.9 L1004.9,437.4 L1006.8,436.9 L1008.8,436.3 L1010.7,435.8 L1012.6,435.3 L1014.6,434.8 L1016.5,434.3 L1018.5,433.9 L1020.4,433.4 L1022.3,432.9 L1024.3,432.5 L1026.2,432.0 L1028.2,431.5 L1030.1,431.1 L1032.1,430.7 L1034.0,430.2 L1036.0,429.7 L1037.9,429.3 L1039.8,428.8 L1041.8,428.3 L1043.7,427.9 L1045.7,427.4 L1047.6,426.9 L1049.5,426.3 L1051.5,425.8 L1053.4,425.3 L1055.3,424.8 L1057.2,424.2 L1059.2,423.7 L1061.1,423.2 L1063.0,422.7 L1065.0,422.2 L1066.9,421.7 L1068.8,421.2 L1070.8,420.7 L1072.7,420.2 L1074.7,419.7 L1076.6,419.3 L1078.6,418.8 L1080.5,418.4 L1082.5,417.9 L1084.4,417.5 L1086.4,417.1 L1088.3,416.7 L1090.3,416.2 L1092.2,415.8 L1094.2,415.4 L1096.1,415.0 L1098.1,414.5 L1100.0,414.1 L1102.0,413.7 L1104.0,413.3 L1105.9,412.9 L1107.9,412.5 L1109.8,412.0 L1111.8,411.6 L1113.7,411.2 L1115.7,410.8 L1117.6,410.3 L1119.6,409.9 L1121.6,409.5 L1123.5,409.1 L1125.5,408.6 L1127.4,408.2 L1129.4,407.8 L1131.3,407.3 L1133.3,406.9 L1135.2,406.5 L1137.2,406.0 L1139.1,405.6 L1141.1,405.2 L1143.0,404.8 L1145.0,404.4 L1147.0,404.0 L1148.9,403.7 L1150.9,403.3 L1152.9,403.0 L1154.8,402.6 L1156.8,402.3 L1158.8,402.0 L1160.8,401.7 L1162.7,401.3 L1164.7,401.0 L1166.7,400.8 L1168.7,400.5 L1170.7,400.2 L1172.6,399.9 L1174.6,399.7 L1176.6,399.4 L1178.6,399.2 L1180.6,399.0 L1182.6,398.8 L1184.6,398.6 L1186.6,398.4 L1188.6,398.2 L1190.5,398.0 L1192.5,397.9 L1194.5,397.7 L1196.5,397.7 L1198.5,397.6 L1200.5,397.7 L1202.5,397.7 L1204.5,397.9 L1206.5,398.1 L1208.5,398.3 L1210.4,398.6 L1212.4,398.9 L1214.4,399.3 L1216.3,399.7 L1218.3,400.0 L1220.3,400.4 L1222.2,400.8 L1224.2,401.2 L1226.2,401.6 L1228.1,402.0 L1230.1,402.4 L1232.0,402.8 L1234.0,403.1 L1236.0,403.5 L1237.9,403.9 L1239.9,404.3 L1241.9,404.7 L1243.8,405.1 L1245.8,405.5 L1247.7,405.9 L1249.7,406.3 L1251.7,406.7 L1253.6,407.1 L1255.6,407.5 L1257.5,407.9 L1259.5,408.3 L1261.5,408.7 L1263.4,409.0 L1265.4,409.4 L1267.4,409.8 L1269.3,410.2 L1271.3,410.6 L1273.2,411.0 L1275.2,411.4 L1277.2,411.7 L1279.1,412.1 L1281.1,412.5 L1283.1,412.9 L1285.0,413.2 L1287.0,413.6 L1289.0,414.0 L1290.9,414.4 L1292.9,414.8 L1294.9,415.1 L1296.8,415.5 L1298.8,415.8 L1300.8,416.1 L1302.7,416.2 L1304.7,416.3 L1306.7,416.3 L1308.7,416.2 L1310.7,416.0 L1312.7,415.9 L1314.7,415.7 L1316.7,415.5 L1318.7,415.4 L1320.7,415.2 L1322.6,415.0 L1324.6,414.8 L1326.6,414.6 L1328.6,414.4 L1330.6,414.1 L1332.6,413.9 L1334.6,413.6 L1336.5,413.3 L1338.5,413.0 L1340.4,412.5 L1342.3,412.0 L1344.2,411.4 L1346.1,410.7 L1347.9,409.9 L1349.8,409.1 L1351.6,408.3 L1353.4,407.5 L1355.3,406.7 L1357.1,405.9 L1358.0,405.5" stroke="#00B068"/>
</g>
<path d="M483.2,955 V940 M701.4,955 V940 M919.6,955 V940 M1137.8,955 V940 M268,807.5 H283 M268,657.0 H283 M268,506.5 H283 M268,356.0 H283 M268,205.5 H283" stroke="#000" stroke-width="6" fill="none"/>
<text x="0" y="0" font-size="75.2" text-anchor="end" transform="translate(245.50 981.00) scale(1 1.060)" >0</text>
<text x="0" y="0" font-size="75.2" text-anchor="end" transform="translate(245.50 830.50) scale(1 1.060)" >50</text>
<text x="0" y="0" font-size="75.2" text-anchor="end" transform="translate(245.50 680.00) scale(1 1.060)" >100</text>
<text x="0" y="0" font-size="75.2" text-anchor="end" transform="translate(245.50 529.50) scale(1 1.060)" >150</text>
<text x="0" y="0" font-size="75.2" text-anchor="end" transform="translate(245.50 379.00) scale(1 1.060)" >200</text>
<text x="0" y="0" font-size="75.2" text-anchor="end" transform="translate(245.50 228.50) scale(1 1.060)" >250</text>
<text x="0" y="0" font-size="75.2" text-anchor="end" transform="translate(245.50 78.00) scale(1 1.060)" >300</text>
<text x="0" y="0" font-size="75.2" text-anchor="middle" transform="translate(265.00 1037.50) scale(1 1.060)" >0</text>
<text x="0" y="0" font-size="75.2" text-anchor="middle" transform="translate(483.20 1037.50) scale(1 1.060)" >40</text>
<text x="0" y="0" font-size="75.2" text-anchor="middle" transform="translate(701.40 1037.50) scale(1 1.060)" >80</text>
<text x="0" y="0" font-size="75.2" text-anchor="middle" transform="translate(919.60 1037.50) scale(1 1.060)" >120</text>
<text x="0" y="0" font-size="75.2" text-anchor="middle" transform="translate(1137.80 1037.50) scale(1 1.060)" >160</text>
<text x="0" y="0" font-size="75.2" text-anchor="middle" transform="translate(1356.00 1037.50) scale(1 1.060)" >200</text>
<rect x="267.5" y="908" width="57.2" height="64.3" fill="rgba(196,196,196,0.49)"/>
<path d="M267.5,972.3 V908.25 H324.7 V972.3" fill="none" stroke="rgba(250,110,110,0.75)" stroke-width="1.3"/>
<rect x="267" y="970.9" width="58.2" height="2.7" fill="rgba(255,110,110,0.85)"/>
<line x1="325.7" y1="906.5" x2="387.2" y2="500.5" stroke="#000" stroke-width="4.4" stroke-dasharray="20.5 22.6"/>
<polygon points="388.2,471 392.8,471 394.6,474.3 394.8,492.6 391.2,492.9 390.2,483.5 389.3,482.6 384.9,492.9 380.3,490.6 386.4,474.3" fill="#000"/>
<rect x="354.2" y="122.5" width="441.5" height="325.7" fill="#fff" stroke="none"/>
<g clip-path="url(#ci)" fill="none" stroke-width="3" stroke-linejoin="round" stroke-linecap="round">
<path d="M453.0,352.7 L454.6,354.0 L456.1,355.2 L457.7,356.5 L459.2,357.8 L460.8,359.0 L462.3,360.3 L463.9,361.6 L465.4,362.8 L467.0,364.1 L468.6,365.3 L470.2,366.5 L471.7,367.8 L473.3,369.0 L474.9,370.2 L476.4,371.2 L477.8,371.1 L479.0,369.9 L480.2,368.3 L481.4,366.6 L482.5,365.0 L483.7,363.4 L484.9,361.8 L486.0,360.1 L487.2,358.5 L488.2,356.7 L489.2,355.0 L490.2,353.3 L491.2,351.5 L492.2,349.8 L493.2,348.1 L494.2,346.3 L495.2,344.6 L496.3,342.9 L497.4,341.3 L498.6,339.6 L499.7,337.9 L500.8,336.3 L502.0,334.7 L503.2,333.1 L504.5,331.5 L505.7,329.9 L506.9,328.4 L508.3,326.9 L509.7,325.5 L511.3,324.2 L512.8,322.9 L514.2,321.5 L515.3,319.9 L516.1,318.1 L516.9,316.3 L517.7,314.4 L518.6,312.6 L519.5,310.8 L520.4,309.1 L521.4,307.3 L522.5,305.7 L523.6,304.0 L524.4,302.2 L525.0,300.3 L525.5,298.4 L525.9,296.4 L526.3,294.5 L526.8,292.5 L527.3,290.6 L527.8,288.6 L528.4,286.7 L528.9,284.8 L529.5,282.8 L530.0,280.9 L530.6,279.0 L531.1,277.1 L531.6,275.1 L532.1,273.2 L532.6,271.3 L533.1,269.3 L533.7,267.4 L534.2,265.4 L534.7,263.5 L535.2,261.6 L535.7,259.6 L536.2,257.7 L536.7,255.8 L537.2,253.8 L537.7,251.9 L538.3,249.9 L538.9,248.0 L539.5,246.1 L540.2,244.2 L540.8,242.4 L541.5,240.5 L542.2,238.6 L542.8,236.7 L543.5,234.8 L544.1,232.9 L544.8,231.0 L545.5,229.1 L546.1,227.2 L546.8,225.3 L547.5,223.4 L548.1,221.6 L548.8,219.7 L549.5,217.8 L550.3,216.0 L551.2,214.2 L552.0,212.3 L552.9,210.5 L553.8,208.7 L554.6,206.9 L555.5,205.1 L556.3,203.3 L557.2,201.5 L558.0,199.6 L558.9,197.8 L559.7,196.0 L560.6,194.2 L561.4,192.4 L562.3,190.6 L563.2,188.8 L564.1,187.0 L565.0,185.2 L565.9,183.4 L566.8,181.6 L567.7,179.9 L568.6,178.1 L569.5,176.3 L570.4,174.5 L571.3,172.7 L572.2,170.9 L573.1,169.1 L574.0,167.3 L574.9,165.5 L575.9,163.8 L576.8,162.0 L577.8,160.2 L578.7,158.5 L579.6,156.7 L580.6,154.9 L581.5,153.2 L582.5,151.4 L583.4,149.6 L584.4,147.9 L585.3,146.1 L586.2,144.3 L587.1,142.5 L588.0,140.7 L588.9,138.9 L589.8,137.2 L590.7,135.4 L591.6,133.6 L592.5,131.8 L593.4,130.0 L594.3,128.2 L595.2,126.4 L596.1,124.6 L597.0,122.8 L597.9,121.0 L598.8,119.3 L599.7,117.5 L600.6,115.7 L601.5,113.9 L602.0,113.0" stroke="#505050"/>
<path d="M489.1,348.8 L490.5,350.2 L491.9,351.7 L493.2,353.1 L494.6,354.6 L496.0,356.0 L497.4,357.5 L498.8,358.9 L500.1,360.4 L501.5,361.8 L502.9,363.3 L504.3,364.7 L505.6,366.0 L507.0,366.4 L508.5,365.5 L509.9,364.1 L511.3,362.7 L512.7,361.3 L514.1,359.9 L515.5,358.5 L517.0,357.1 L518.5,355.8 L520.0,354.4 L521.5,353.1 L523.0,351.8 L524.4,350.5 L525.8,349.0 L527.1,347.5 L528.4,346.0 L529.8,344.5 L531.1,343.0 L532.3,341.4 L533.6,339.8 L534.8,338.3 L536.1,336.7 L537.3,335.2 L538.6,333.6 L539.9,332.1 L541.3,330.7 L542.7,329.3 L544.2,327.9 L545.6,326.5 L547.0,325.1 L548.4,323.7 L549.9,322.3 L551.4,321.0 L552.9,319.6 L554.4,318.3 L555.9,317.0 L557.3,315.6 L558.8,314.2 L560.2,312.8 L561.5,311.3 L562.8,309.8 L564.2,308.3 L565.5,306.9 L566.9,305.4 L568.3,303.9 L569.7,302.5 L571.2,301.2 L572.7,299.9 L574.2,298.5 L575.6,297.2 L577.1,295.8 L578.5,294.4 L579.9,293.0 L581.2,291.5 L582.5,290.0 L583.9,288.5 L585.2,287.0 L586.7,285.6 L588.2,284.3 L589.6,282.9 L591.1,281.5 L592.5,280.2 L594.0,278.8 L595.4,277.4 L596.9,276.1 L598.4,274.7 L599.8,273.3 L601.3,272.0 L602.8,270.6 L604.2,269.3 L605.7,267.9 L607.2,266.5 L608.6,265.2 L610.1,263.8 L611.6,262.5 L613.1,261.2 L614.7,260.0 L616.4,259.0 L618.2,258.1 L620.0,257.1 L621.7,256.2 L623.5,255.3 L625.3,254.3 L627.0,253.4 L628.8,252.4 L630.5,251.4 L632.2,250.3 L633.9,249.3 L635.6,248.2 L637.3,247.2 L638.9,246.0 L640.4,244.7 L641.9,243.3 L643.4,242.0 L644.9,240.7 L646.4,239.3 L647.9,238.0 L649.4,236.7 L650.9,235.3 L652.4,234.0 L653.8,232.7 L655.4,231.4 L656.9,230.1 L658.5,228.9 L660.1,227.6 L661.6,226.4 L663.2,225.2 L664.8,223.9 L666.3,222.7 L667.9,221.4 L669.5,220.2 L671.0,218.9 L672.6,217.7 L674.1,216.4 L675.7,215.1 L677.2,213.9 L678.8,212.6 L680.3,211.3 L681.9,210.1 L683.4,208.8 L685.0,207.5 L686.5,206.3 L688.0,205.0 L689.6,203.7 L691.1,202.4 L692.7,201.1 L694.2,199.9 L695.7,198.6 L697.3,197.3 L698.8,196.0 L700.3,194.7 L701.9,193.4 L703.4,192.2 L705.0,190.9 L706.5,189.6 L708.1,188.4 L709.6,187.1 L711.1,185.8 L712.7,184.6 L714.2,183.3 L715.8,182.0 L717.3,180.8 L718.9,179.5 L720.6,178.4 L722.2,177.3 L723.9,176.2 L725.5,175.1 L727.2,173.9 L728.9,172.8 L730.5,171.7 L732.2,170.6 L733.9,169.5 L735.5,168.4 L737.2,167.3 L738.8,166.2 L740.5,165.0 L742.2,163.9 L743.8,162.8 L745.4,161.6 L747.1,160.4 L748.7,159.2 L750.3,158.0 L751.9,156.8 L753.5,155.6 L755.1,154.4 L756.7,153.2 L758.3,152.0 L759.9,150.8 L761.5,149.6 L763.1,148.4 L764.7,147.2 L766.3,146.0 L767.9,144.8 L769.5,143.7 L771.1,142.5 L772.7,141.3 L774.3,140.1 L775.9,138.9 L777.5,137.7 L779.1,136.5 L780.7,135.3 L782.3,134.1 L784.0,132.9 L785.6,131.8 L787.2,130.6 L788.8,129.4 L790.4,128.2 L792.0,127.0 L793.6,125.8 L795.2,124.6 L796.8,123.4 L798.4,122.2 L800.0,121.0 L801.6,119.8 L803.2,118.6 L804.8,117.4 L806.4,116.2 L808.0,115.0" stroke="#FF4646"/>
<path d="M382.8,334.1 L384.7,333.5 L386.6,333.0 L388.6,332.4 L390.5,331.9 L392.4,331.3 L394.4,330.8 L396.3,330.5 L398.3,330.2 L400.3,330.0 L402.3,329.7 L404.3,329.5 L406.3,329.3 L408.3,329.0 L410.3,328.8 L412.2,328.5 L414.2,328.3 L416.2,328.1 L418.2,328.0 L420.2,327.8 L422.2,327.7 L424.2,327.5 L426.2,327.4 L428.2,327.2 L430.2,327.1 L432.2,326.9 L434.2,326.8 L436.2,326.9 L438.2,326.9 L440.2,327.0 L442.2,327.0 L444.2,327.1 L446.2,327.1 L448.2,327.2 L450.3,327.2 L452.3,327.3 L454.2,327.6 L456.2,327.9 L458.2,328.3 L460.1,328.7 L462.1,329.1 L464.1,329.5 L466.0,329.9 L468.0,330.3 L470.0,330.7 L471.9,331.1 L473.8,331.7 L475.7,332.4 L477.5,333.2 L479.4,333.9 L481.3,334.7 L483.1,335.4 L485.0,336.2 L486.8,336.9 L488.7,337.7 L490.6,338.4 L492.4,339.2 L494.3,339.9 L496.1,340.7 L498.0,341.4 L499.9,342.1 L501.7,342.9 L503.5,343.9 L505.2,344.9 L506.9,345.9 L508.6,346.9 L510.4,348.0 L512.1,349.0 L513.8,350.0 L515.5,351.0 L517.3,352.0 L519.0,353.0 L520.7,354.1 L522.4,355.1 L524.2,356.1 L525.9,357.2 L527.6,358.2 L529.3,359.2 L531.0,360.2 L532.8,361.3 L534.5,362.2 L536.3,363.1 L538.2,363.8 L540.0,364.6 L541.9,365.4 L543.7,366.1 L545.6,366.7 L547.4,366.4 L549.2,365.5 L551.0,364.6 L552.8,363.7 L554.3,362.5 L555.6,361.0 L556.8,359.4 L558.1,357.8 L559.3,356.3 L560.6,354.7 L561.8,353.1 L562.9,351.5 L564.1,349.8 L565.3,348.2 L566.4,346.6 L567.5,344.9 L568.6,343.2 L569.5,341.4 L570.4,339.7 L571.3,337.9 L572.2,336.1 L573.1,334.3 L574.1,332.5 L575.3,331.0 L576.7,329.5 L578.1,328.1 L579.5,326.7 L581.0,325.3 L582.3,323.8 L583.5,322.2 L584.4,320.4 L585.3,318.7 L586.2,316.9 L587.1,315.0 L587.7,313.2 L588.3,311.2 L589.1,309.4 L590.2,307.8 L591.4,306.2 L592.6,304.6 L593.8,303.0 L595.2,301.5 L596.8,300.4 L598.5,299.3 L600.2,298.3 L601.9,297.2 L603.5,295.9 L604.9,294.5 L606.3,293.2 L607.8,291.8 L609.3,290.4 L610.8,289.1 L612.3,287.8 L613.8,286.4 L615.3,285.1 L616.6,283.6 L617.4,281.8 L618.1,279.9 L618.8,278.1 L619.4,276.2 L619.8,274.2 L620.2,272.2 L620.6,270.3 L621.7,268.6 L622.9,267.0 L624.1,265.4 L625.2,263.8 L626.4,262.2 L627.5,260.5 L628.6,258.8 L629.6,257.1 L630.7,255.4 L631.3,253.5 L631.5,251.6 L631.7,249.6 L631.9,247.6 L632.0,245.6 L632.3,243.6 L632.9,241.7 L633.4,239.7 L634.0,237.8 L634.6,235.9 L635.2,234.0 L635.7,232.1 L636.3,230.1 L636.9,228.2 L637.5,226.3 L638.1,224.4 L638.7,222.5 L639.3,220.6 L639.9,218.7 L640.5,216.7 L641.0,214.8 L641.6,212.9 L642.2,211.0 L642.8,209.1 L643.4,207.2 L644.0,205.3 L644.6,203.3 L645.2,201.4 L645.8,199.5 L646.4,197.6 L647.0,195.7 L647.6,193.8 L648.4,191.9 L649.3,190.2 L650.3,188.4 L651.3,186.7 L652.2,184.9 L653.2,183.2 L654.1,181.4 L654.6,179.4 L655.1,177.5 L655.6,175.6 L656.1,173.6 L656.6,171.7 L657.1,169.7 L657.6,167.8 L658.3,165.9 L659.3,164.2 L660.3,162.5 L661.4,160.8 L662.5,159.1 L663.5,157.4 L664.4,155.6 L665.0,153.7 L665.6,151.8 L666.2,149.9 L666.7,147.9 L667.3,146.0 L667.9,144.1 L668.6,142.2 L669.4,140.4 L670.3,138.6 L671.1,136.8 L671.9,134.9 L672.7,133.1 L673.6,131.3 L674.4,129.5 L675.2,127.6 L676.0,125.8 L676.9,124.0 L677.7,122.1 L678.5,120.3 L679.2,118.5 L680.0,116.6 L680.8,114.8 L681.6,112.9 L682.0,112.0" stroke="#0070E0"/>
<path d="M394.5,327.8 L396.4,327.2 L398.3,326.6 L400.3,326.1 L402.2,325.5 L404.1,324.9 L406.0,324.3 L407.9,323.8 L409.9,323.3 L411.8,323.0 L413.8,322.6 L415.8,322.3 L417.8,322.0 L419.8,321.7 L421.7,321.3 L423.7,321.1 L425.7,321.0 L427.7,321.0 L429.7,321.0 L431.7,321.0 L433.7,321.0 L435.7,321.0 L437.7,321.0 L439.7,321.0 L441.7,321.0 L443.7,321.0 L445.8,321.1 L447.8,321.1 L449.8,321.2 L451.8,321.2 L453.8,321.3 L455.8,321.3 L457.8,321.4 L459.8,321.4 L461.8,321.5 L463.8,321.7 L465.7,322.1 L467.7,322.5 L469.7,322.9 L471.6,323.3 L473.6,323.7 L475.5,324.0 L477.5,324.4 L479.5,324.8 L481.4,325.2 L483.4,325.7 L485.3,326.2 L487.3,326.6 L489.2,327.1 L491.2,327.6 L493.1,328.1 L495.1,328.6 L497.0,329.0 L499.0,329.5 L500.9,330.0 L502.9,330.5 L504.8,331.0 L506.7,331.5 L508.6,332.1 L510.6,332.7 L512.5,333.2 L514.4,333.8 L516.3,334.4 L518.2,334.9 L520.2,335.5 L522.1,336.1 L524.0,336.7 L525.9,337.2 L527.8,337.8 L529.8,338.4 L531.7,339.0 L533.6,339.6 L535.5,340.1 L537.4,340.7 L539.3,341.3 L541.3,341.9 L543.2,342.4 L545.1,343.0 L547.1,343.5 L549.0,344.0 L550.9,344.4 L552.9,344.9 L554.8,345.4 L556.8,345.9 L558.7,346.4 L560.7,346.9 L562.6,347.4 L564.5,348.0 L566.4,348.6 L568.3,349.3 L570.2,349.9 L572.1,350.6 L574.0,351.3 L575.9,351.9 L577.8,352.6 L579.7,353.2 L581.5,353.9 L583.4,354.6 L585.3,355.2 L587.2,355.9 L589.1,356.5 L591.0,357.2 L592.9,357.8 L594.8,358.5 L596.7,359.1 L598.6,359.8 L600.5,360.5 L602.4,360.9 L604.3,360.7 L606.2,360.1 L608.1,359.5 L610.0,359.0 L611.9,358.3 L613.5,357.2 L615.0,355.9 L616.5,354.5 L618.0,353.2 L619.5,351.8 L621.0,350.5 L622.4,349.1 L623.6,347.5 L624.8,345.9 L626.1,344.3 L627.3,342.7 L628.5,341.1 L629.7,339.5 L630.9,338.0 L632.2,336.4 L633.5,334.8 L634.7,333.3 L636.0,331.8 L637.3,330.3 L638.6,328.7 L639.9,327.2 L641.2,325.7 L642.5,324.1 L643.8,322.6 L645.1,321.1 L646.4,319.6 L647.8,318.1 L649.1,316.6 L650.4,315.1 L651.7,313.6 L653.1,312.1 L654.4,310.5 L655.6,309.0 L656.9,307.5 L658.2,305.9 L659.4,304.3 L660.7,302.8 L662.0,301.2 L663.2,299.7 L664.5,298.1 L665.7,296.5 L666.9,294.9 L668.1,293.3 L669.3,291.7 L670.5,290.1 L671.7,288.5 L672.6,286.7 L673.3,284.8 L673.9,283.0 L674.6,281.1 L675.3,279.2 L676.0,277.3 L676.6,275.4 L677.6,273.7 L679.0,272.2 L680.4,270.8 L681.8,269.4 L683.2,268.0 L684.6,266.6 L686.0,265.2 L687.5,263.8 L688.9,262.4 L690.3,260.9 L691.7,259.5 L693.2,258.1 L694.6,256.7 L696.0,255.3 L697.6,254.1 L699.2,252.8 L700.8,251.6 L702.3,250.4 L703.9,249.2 L705.5,248.0 L707.1,246.7 L708.7,245.5 L710.3,244.3 L711.8,243.0 L712.9,241.4 L713.5,239.5 L714.1,237.6 L714.6,235.7 L715.2,233.8 L715.8,231.9 L716.4,230.0 L717.2,228.1 L718.0,226.3 L718.9,224.5 L719.7,222.7 L720.5,220.8 L721.4,219.0 L722.2,217.2 L723.0,215.4 L723.9,213.6 L725.1,211.9 L726.3,210.3 L727.5,208.8 L728.7,207.2 L729.9,205.6 L731.2,204.0 L732.4,202.4 L733.6,200.8 L734.8,199.2 L736.0,197.6 L736.7,195.9 L736.9,193.9 L737.1,191.9 L737.2,189.9 L737.4,187.9 L737.5,185.9 L737.6,183.9 L737.8,181.9 L738.0,179.9 L738.4,177.9 L739.0,176.0 L739.6,174.1 L740.2,172.2 L740.9,170.3 L741.5,168.4 L742.1,166.5 L742.7,164.6 L743.4,162.7 L744.0,160.8 L744.7,158.9 L745.4,157.1 L746.1,155.2 L746.9,153.3 L747.6,151.5 L748.3,149.6 L749.0,147.7 L749.7,145.8 L750.5,144.0 L751.2,142.1 L751.9,140.2 L752.6,138.4 L753.4,136.5 L754.1,134.6 L754.8,132.8 L755.5,130.9 L756.2,129.0 L757.0,127.2 L757.7,125.3 L758.4,123.4 L759.1,121.5 L759.7,119.6 L760.4,117.7 L761.0,115.8 L761.7,113.9 L762.0,113.0" stroke="#00B068"/>
</g>
<path d="M354.25,121 V450 M352,122.5 H798 M795.5,121 V450 M352,448.25 H798" stroke="#000" fill="none" stroke-width="0"/>
<rect x="352" y="121" width="446" height="3" fill="#000"/>
<rect x="352" y="446.5" width="446" height="3.5" fill="#000"/>
<rect x="352" y="121" width="4.5" height="329" fill="#000"/>
<rect x="793.3" y="121" width="4.6" height="329" fill="#000"/>
<path d="M448.4,447 V441.5 M561.3,447 V441.5 M674.2,447 V441.5 M787.0,447 V441.5 M356,373.3 H360 M356,296.8 H360 M356,220.3 H360 M356,143.8 H360" stroke="#000" stroke-width="3" fill="none"/>
<text x="347.40" y="389.60" font-size="53" text-anchor="end" >0</text>
<text x="347.40" y="313.10" font-size="53" text-anchor="end" >5</text>
<text x="347.40" y="236.60" font-size="53" text-anchor="end" >10</text>
<text x="347.40" y="160.10" font-size="53" text-anchor="end" >15</text>
<text x="448.40" y="496.50" font-size="53" text-anchor="middle" >4</text>
<text x="561.28" y="496.50" font-size="53" text-anchor="middle" >8</text>
<text x="674.16" y="496.50" font-size="53" text-anchor="middle" >12</text>
<text x="787.04" y="496.50" font-size="53" text-anchor="middle" >16</text>
<line x1="1013" y1="104.9" x2="1118" y2="104.9" stroke="#505050" stroke-width="6" stroke-linecap="round"/>
<text x="0" y="0" font-size="45" text-anchor="start" transform="translate(1131.50 121.00) scale(1 1.050)" >Untreated</text>
<line x1="1013" y1="163.3" x2="1118" y2="163.3" stroke="#FF4646" stroke-width="6" stroke-linecap="round"/>
<text x="0" y="0" font-size="45" text-anchor="start" transform="translate(1131.50 179.00) scale(1 1.050)" >200N</text>
<line x1="1013" y1="223.1" x2="1118" y2="223.1" stroke="#0070E0" stroke-width="6" stroke-linecap="round"/>
<text x="0" y="0" font-size="45" text-anchor="start" transform="translate(1131.50 238.60) scale(1 1.050)" >400N</text>
<line x1="1013" y1="281.3" x2="1118" y2="281.3" stroke="#00B068" stroke-width="6" stroke-linecap="round"/>
<text x="0" y="0" font-size="45" text-anchor="start" transform="translate(1131.50 297.00) scale(1 1.050)" >500N</text>
<text x="636.80" y="1143.40" font-size="78.5">Z</text>
<path d="M694.2,1093.5 C694.2,1091.2 696.5,1090.7 699.4,1090.7 C702.4,1090.7 704.6,1091.2 704.6,1093.5 C704.6,1097 702,1108 700.6,1115.8 L698.2,1115.8 C696.8,1108 694.2,1097 694.2,1093.5 Z" fill="#000"/>
<text x="0" y="0" font-size="78.5" transform="translate(727.00 1143.40) scale(1.070 0.960)" font-weight="normal">(</text>
<text x="0" y="0" font-size="78.5" transform="translate(752.50 1143.40) scale(0.960 1.000)">&#937;</text>
<circle cx="824.9" cy="1116.6" r="5.2" fill="#000"/>
<text x="0" y="0" font-size="78.5" transform="translate(838.00 1143.40) scale(0.930 1.000)">c</text>
<text x="0" y="0" font-size="78.5" transform="translate(872.00 1143.40) scale(0.900 1.000)">m</text>
<text x="931.60" y="1110.80" font-size="52">2</text>
<text x="0" y="0" font-size="78.5" transform="translate(956.50 1143.40) scale(1.000 0.960)" font-weight="normal">)</text>
<g transform="translate(79 0) rotate(-90)">
<text x="-686.90" y="0.60" font-size="76">-</text>
<text x="0" y="0" font-size="76" transform="translate(-662.30 0.00) scale(1.090 1.000)">Z</text>
<path d="M-604.2,-46.5 C-604.2,-49 -602.2,-49.5 -599.1,-49.5 C-596.0,-49.5 -594.0,-49 -594.0,-46.5 C-594.0,-43 -596.6,-33 -597.9,-26.6 L-600.3,-26.6 C-601.6,-33 -604.2,-43 -604.2,-46.5 Z" fill="#000"/>
<path d="M-583.1,-46.5 C-583.1,-49 -581.1,-49.5 -578.0,-49.5 C-574.9,-49.5 -572.9,-49 -572.9,-46.5 C-572.9,-43 -575.5,-33 -576.8,-26.6 L-579.2,-26.6 C-580.5,-33 -583.1,-43 -583.1,-46.5 Z" fill="#000"/>
<text x="0" y="0" font-size="76" transform="translate(-548.20 0.00) scale(1.070 0.940)" font-weight="normal">(</text>
<text x="0" y="0" font-size="76" transform="translate(-522.80 0.00) scale(0.990 0.970)">&#937;</text>
<circle cx="-448.5" cy="-25" r="5" fill="#000"/>
<text x="0" y="0" font-size="76" transform="translate(-436.50 0.00) scale(0.980 1.000)">c</text>
<text x="0" y="0" font-size="76" transform="translate(-397.90 0.00) scale(0.935 0.960)">m</text>
<text x="-338.30" y="-30.00" font-size="52">2</text>
<text x="0" y="0" font-size="76" transform="translate(-313.20 0.00) scale(1.070 0.940)" font-weight="normal">)</text>
</g>
</svg></body></html>
